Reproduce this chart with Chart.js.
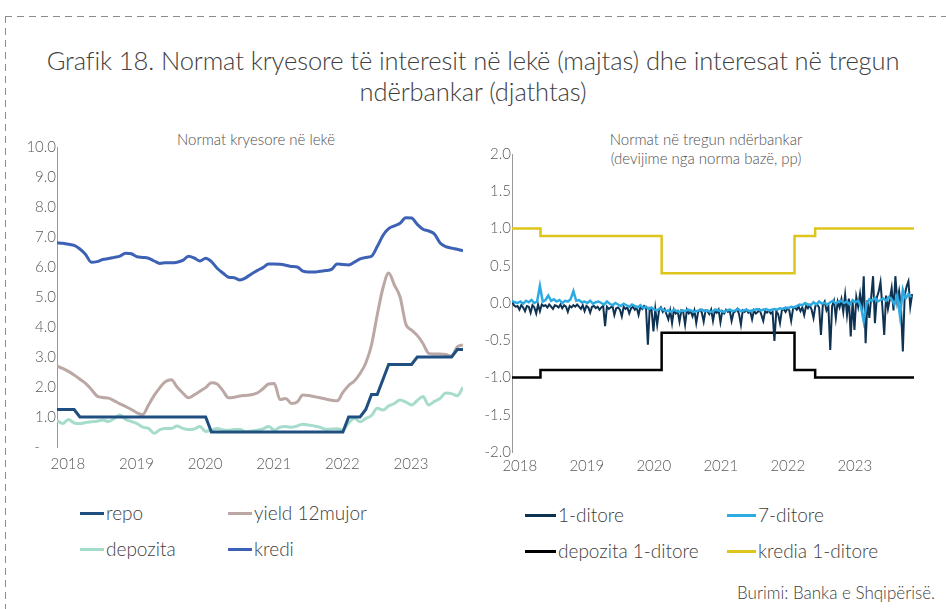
<!DOCTYPE html>
<html lang="sq">
<head>
    <meta charset="UTF-8">
    <title>Grafik 18</title>
    <script src="https://cdn.jsdelivr.net/npm/chart.js"></script>
    <style>
        body {
            margin: 0;
            width: 946px;
            height: 609px;
            background: #fff;
            position: relative;
            overflow: hidden;
            font-family: Lato, "Open Sans", sans-serif;
            font-weight: 300;
            color: #404040;
        }
        .dash-top {
            position: absolute; left: 5px; top: 16px; width: 941px; height: 1px;
            background: repeating-linear-gradient(to right, #8c8c8c 0 7px, transparent 7px 12px);
        }
        .dash-left {
            position: absolute; left: 5px; top: 16px; width: 1px; height: 593px;
            background: repeating-linear-gradient(to bottom, #8c8c8c 0 7px, transparent 7px 12px);
        }
        .title {
            position: absolute; left: 0; top: 45px; width: 946px;
            text-align: center; font-size: 25.5px; line-height: 31px; letter-spacing: -0.1px;
        }
        .sub {
            position: absolute; text-align: center; font-size: 15px; line-height: 19px; color: #505050;
        }
        canvas { position: absolute; }
        .legend {
            position: absolute; display: grid; row-gap: 14px; font-size: 19px; line-height: 22px;
        }
        .legend span { display: flex; align-items: center; white-space: nowrap; }
        .legend i { display: inline-block; height: 3px; margin-right: 2px; }
        .source {
            position: absolute; right: 11px; top: 582px; font-size: 17px;
        }
    </style>
</head>
<body>
    <div class="dash-top"></div>
    <div class="dash-left"></div>
    <div class="title">Grafik 18. Normat kryesore të interesit në lekë (majtas) dhe interesat në tregun<br>ndërbankar (djathtas)</div>
    <div class="sub" style="left:146px; top:130px; width:220px;">Normat kryesore në lekë</div>
    <div class="sub" style="left:586px; top:130px; width:240px;">Normat në tregun ndërbankar<br>(devijime nga norma bazë, pp)</div>

    <canvas id="leftChart" width="465" height="355" style="left:10px; top:125px;"></canvas>
    <canvas id="rightChart" width="465" height="355" style="left:475px; top:125px;"></canvas>

    <div class="legend" id="leftLegend" style="left:80px; top:502px; grid-template-columns:148px 160px;"></div>
    <div class="legend" id="rightLegend" style="left:525px; top:504px; grid-template-columns:202px 180px;"></div>

    <div class="source">Burimi: Banka e Shqipërisë.</div>

    <script>
        const YEARS = ['2018', '2019', '2020', '2021', '2022', '2023'];

        // majtas: vlera mujore, janar 2018 - dhjetor 2023
        const REPO = [
            1.25, 1.25, 1.25, 1.25, 1.00, 1.00, 1.00, 1.00, 1.00, 1.00, 1.00, 1.00,
            1.00, 1.00, 1.00, 1.00, 1.00, 1.00, 1.00, 1.00, 1.00, 1.00, 1.00, 1.00,
            1.00, 1.00, 1.00, 0.50, 0.50, 0.50, 0.50, 0.50, 0.50, 0.50, 0.50, 0.50,
            0.50, 0.50, 0.50, 0.50, 0.50, 0.50, 0.50, 0.50, 0.50, 0.50, 0.50, 0.50,
            0.50, 0.50, 0.50, 1.00, 1.00, 1.00, 1.25, 1.75, 1.75, 2.25, 2.75, 2.75,
            2.75, 2.75, 2.75, 3.00, 3.00, 3.00, 3.00, 3.00, 3.00, 3.00, 3.25, 3.25
        ];
        const YIELD_12M = [
            2.70, 2.62, 2.52, 2.40, 2.26, 2.12, 1.92, 1.70, 1.65, 1.63, 1.54, 1.44,
            1.35, 1.25, 1.14, 1.08, 1.40, 1.72, 1.98, 2.18, 2.24, 2.00, 1.80, 1.64,
            1.74, 1.86, 1.98, 2.14, 2.10, 1.88, 1.64, 1.66, 1.70, 1.72, 1.74, 1.80,
            1.94, 2.10, 2.12, 1.58, 1.62, 1.45, 1.50, 1.73, 1.72, 1.68, 1.64, 1.60,
            1.56, 1.54, 1.82, 2.05, 2.20, 2.45, 2.80, 3.40, 4.40, 5.30, 5.80, 5.40,
            5.00, 4.10, 3.90, 3.72, 3.45, 3.12, 3.10, 3.10, 3.08, 3.03, 3.34, 3.40
        ];
        const DEPOZITA = [
            0.88, 0.78, 0.92, 0.80, 0.78, 0.82, 0.84, 0.86, 0.90, 0.85, 0.95, 1.07,
            0.92, 0.85, 0.78, 0.66, 0.62, 0.46, 0.58, 0.62, 0.62, 0.70, 0.62, 0.58,
            0.60, 0.68, 0.52, 0.56, 0.62, 0.57, 0.56, 0.58, 0.58, 0.51, 0.53, 0.56,
            0.60, 0.68, 0.57, 0.66, 0.68, 0.66, 0.70, 0.76, 0.73, 0.70, 0.66, 0.59,
            0.60, 0.61, 0.57, 0.80, 0.96, 0.84, 0.95, 1.05, 1.29, 1.23, 1.37, 1.45,
            1.57, 1.50, 1.40, 1.55, 1.68, 1.40, 1.52, 1.62, 1.80, 1.78, 1.71, 1.99
        ];
        const KREDI = [
            6.81, 6.79, 6.76, 6.72, 6.60, 6.42, 6.16, 6.18, 6.25, 6.28, 6.32, 6.36,
            6.46, 6.44, 6.34, 6.32, 6.29, 6.20, 6.12, 6.14, 6.14, 6.16, 6.22, 6.36,
            6.30, 6.20, 6.29, 6.18, 5.96, 5.80, 5.66, 5.64, 5.57, 5.64, 5.77, 5.88,
            5.98, 6.10, 6.10, 6.09, 6.06, 6.02, 6.00, 5.86, 5.83, 5.83, 5.86, 5.88,
            5.92, 6.10, 6.08, 6.07, 6.16, 6.27, 6.32, 6.36, 6.68, 7.05, 7.28, 7.37,
            7.46, 7.64, 7.63, 7.42, 7.26, 7.20, 7.10, 6.80, 6.68, 6.63, 6.59, 6.54
        ];

        // djathtas: 1-ditore me 3 vlera ne muaj, 7-ditore me 2 vlera ne muaj
        const DITORE_1 = [
            0.02, -0.03, -0.05, -0.04, -0.09, -0.03, -0.06, -0.11, -0.04, -0.05, -0.13, -0.03,
            -0.06, -0.14, -0.02, -0.11, -0.02, -0.04, -0.03, -0.06, -0.02, -0.05, -0.08, -0.03,
            -0.04, -0.06, -0.02, -0.07, -0.03, -0.05, -0.12, -0.04, -0.06, -0.03, -0.05, -0.02,
            -0.05, -0.08, -0.03, -0.11, -0.04, -0.06, -0.13, -0.05, -0.04, -0.07, -0.05, -0.09,
            -0.06, -0.04, -0.31, -0.05, -0.08, -0.06, -0.04, -0.16, -0.07, -0.06, -0.09, -0.18,
            -0.05, -0.08, -0.06, -0.14, -0.07, -0.05, -0.09, -0.06, -0.16, -0.05, -0.08, -0.04,
            -0.06, -0.56, -0.07, -0.09, -0.38, -0.08, -0.29, -0.10, -0.06, -0.12, -0.08, -0.15,
            -0.22, -0.10, -0.27, -0.09, -0.14, -0.11, -0.25, -0.10, -0.12, -0.29, -0.09, -0.14,
            -0.11, -0.18, -0.10, -0.27, -0.12, -0.09, -0.13, -0.25, -0.10, -0.11, -0.15, -0.09,
            -0.24, -0.10, -0.13, -0.09, -0.26, -0.11, -0.14, -0.09, -0.12, -0.10, -0.24, -0.13,
            -0.11, -0.08, -0.15, -0.29, -0.10, -0.12, -0.09, -0.13, -0.11, -0.22, -0.10, -0.14,
            -0.12, -0.09, -0.16, -0.24, -0.11, -0.13, -0.10, -0.14, -0.12, -0.51, -0.11, -0.15,
            -0.27, -0.10, -0.08, -0.12, -0.07, -0.10, -0.24, -0.08, -0.06, -0.09, -0.05, -0.11,
            -0.06, -0.16, -0.04, -0.07, -0.03, -0.09, -0.20, -0.04, -0.02, -0.06, -0.43, -0.03,
            0.02, -0.10, -0.05, -0.63, -0.04, 0.03, -0.20, 0.02, -0.06, 0.05, -0.12, 0.11,
            -0.16, 0.06, -0.45, 0.02, -0.36, 0.08, -0.05, 0.12, -0.10, 0.36, -0.54, 0.04,
            -0.20, 0.08, 0.36, -0.27, 0.07, 0.15, 0.28, -0.05, -0.43, 0.10, -0.08, 0.05,
            0.20, -0.10, 0.36, 0.02, 0.16, -0.05, -0.65, 0.10, 0.22, 0.29, -0.05, 0.12
        ];
        const DITORE_7 = [
            0.03, 0.01, 0.00, 0.02, -0.01, 0.03, 0.01, 0.04, 0.00, 0.02, 0.23, 0.02,
            0.04, 0.10, 0.03, 0.05, 0.02, 0.04, 0.00, 0.03, 0.02, 0.05, 0.16, 0.03,
            0.04, 0.01, 0.02, 0.00, 0.03, -0.01, 0.01, 0.02, 0.00, -0.02, 0.02, -0.01,
            -0.03, 0.00, -0.02, -0.04, -0.01, -0.03, -0.05, -0.02, -0.04, -0.06, -0.03, -0.07,
            -0.05, -0.08, -0.06, -0.09, -0.10, -0.07, -0.09, -0.11, -0.10, -0.12, -0.09, -0.11,
            -0.12, -0.10, -0.11, -0.09, -0.10, -0.12, -0.11, -0.10, -0.09, -0.11, -0.10, -0.12,
            -0.11, -0.09, -0.10, -0.11, -0.12, -0.10, -0.09, -0.11, -0.10, -0.08, -0.11, -0.10,
            -0.09, -0.11, -0.10, -0.09, -0.08, -0.10, -0.09, -0.08, -0.10, -0.09, -0.08, -0.09,
            -0.07, -0.08, -0.06, -0.07, -0.05, -0.06, -0.04, -0.02, -0.03, 0.00, -0.02, -0.03,
            0.01, -0.02, 0.02, -0.01, 0.00, -0.02, 0.01, 0.03, -0.01, 0.02, 0.03, 0.00,
            0.02, -0.02, 0.04, 0.01, 0.03, -0.05, -0.25, -0.02, 0.05, 0.03, 0.07, 0.02,
            0.04, 0.06, 0.03, 0.08, 0.05, -0.02, 0.10, -0.18, 0.18, 0.06, 0.12, 0.08
        ];
        // korridori: muaji kur ndryshon norma
        const KORRIDOR_MUAJ = [0, 5.1, 26.8, 50.6, 54.3, 72];
        const DEPOZITA_1D = [-1.0, -0.9, -0.4, -0.9, -1.0, -1.0];
        const KREDIA_1D = [1.0, 0.9, 0.4, 0.9, 1.0, 1.0];

        const TICK_COLOR = '#595959';
        const TICK_FONT = { family: 'Lato', size: 15, weight: 300 };

        function toXY(values, perMonth) {
            return values.map((v, i) => ({ x: i / perMonth, y: v }));
        }

        function yearTicks(offset) {
            return function (scale) {
                scale.ticks = YEARS.map((y, i) => ({ value: offset + 12 * i }));
            };
        }

        function buildLegend(id, datasets) {
            const el = document.getElementById(id);
            el.innerHTML = datasets.map(d =>
                `<span><i style="width:${d.swatch}px; background:${d.borderColor}"></i>${d.label}</span>`
            ).join('');
        }

        const leftSets = [
            { label: 'repo', data: toXY(REPO, 1), borderColor: '#1F4E80', borderWidth: 3, tension: 0, swatch: 24 },
            { label: 'yield 12mujor', data: toXY(YIELD_12M, 1), borderColor: '#BBA8A4', borderWidth: 3, tension: 0.4, cubicInterpolationMode: 'monotone', swatch: 24 },
            { label: 'depozita', data: toXY(DEPOZITA, 1), borderColor: '#A6DCCB', borderWidth: 3, tension: 0.3, cubicInterpolationMode: 'monotone', swatch: 24 },
            { label: 'kredi', data: toXY(KREDI, 1), borderColor: '#3D62B5', borderWidth: 3, tension: 0.4, cubicInterpolationMode: 'monotone', swatch: 24 }
        ];

        new Chart(document.getElementById('leftChart'), {
            type: 'line',
            data: { datasets: leftSets.map(d => Object.assign({ pointRadius: 0, fill: false }, d)) },
            options: {
                responsive: false,
                animation: false,
                layout: { padding: { top: 22, right: 12, left: 0, bottom: 0 } },
                plugins: { legend: { display: false }, tooltip: { enabled: false } },
                scales: {
                    x: {
                        type: 'linear', min: 0, max: 71,
                        grid: { display: false, drawTicks: false },
                        border: { display: false },
                        afterBuildTicks: yearTicks(1.9),
                        afterFit: s => { s.height = 33; },
                        ticks: {
                            autoSkip: false, maxRotation: 0, padding: 8,
                            color: TICK_COLOR, font: TICK_FONT,
                            callback: (v, i) => YEARS[i]
                        }
                    },
                    y: {
                        min: 0, max: 10,
                        grid: { display: false, drawTicks: false },
                        border: { display: true, color: '#999', width: 1, dash: [5, 3] },
                        afterFit: s => { s.width = 47; },
                        ticks: {
                            stepSize: 1, padding: 1,
                            color: TICK_COLOR, font: TICK_FONT,
                            callback: v => v === 0 ? '-    ' : v.toFixed(1)
                        }
                    }
                }
            }
        });

        const rightSets = [
            { label: '1-ditore', data: toXY(DITORE_1, 3), borderColor: '#0E3252', borderWidth: 2, order: 1, swatch: 31 },
            { label: '7-ditore', data: toXY(DITORE_7, 2), borderColor: '#2DAAE1', borderWidth: 2.5, order: 0, swatch: 29 },
            { label: 'depozita 1-ditore', data: KORRIDOR_MUAJ.map((m, i) => ({ x: m, y: DEPOZITA_1D[i] })), borderColor: '#000000', borderWidth: 2.5, stepped: true, order: 2, swatch: 31 },
            { label: 'kredia 1-ditore', data: KORRIDOR_MUAJ.map((m, i) => ({ x: m, y: KREDIA_1D[i] })), borderColor: '#DEC51C', borderWidth: 2.5, stepped: true, order: 3, swatch: 29 }
        ];

        new Chart(document.getElementById('rightChart'), {
            type: 'line',
            data: { datasets: rightSets.map(d => Object.assign({ pointRadius: 0, fill: false, tension: 0 }, d)) },
            options: {
                responsive: false,
                animation: false,
                layout: { padding: { top: 29, right: 26, left: 0, bottom: 0 } },
                plugins: { legend: { display: false }, tooltip: { enabled: false } },
                scales: {
                    x: {
                        type: 'linear', min: 0, max: 72,
                        grid: { display: false, drawTicks: false },
                        border: { display: false },
                        afterBuildTicks: yearTicks(1.4),
                        afterFit: s => { s.height = 28; },
                        ticks: {
                            autoSkip: false, maxRotation: 0, padding: 5,
                            color: TICK_COLOR, font: TICK_FONT,
                            callback: (v, i) => YEARS[i]
                        }
                    },
                    y: {
                        min: -2, max: 2,
                        grid: { display: false, drawTicks: false },
                        border: { display: true, color: '#999', width: 1, dash: [5, 3] },
                        afterFit: s => { s.width = 37; },
                        ticks: {
                            stepSize: 0.5, padding: 1,
                            color: TICK_COLOR, font: TICK_FONT,
                            callback: v => v.toFixed(1)
                        }
                    }
                }
            }
        });

        buildLegend('leftLegend', leftSets);
        buildLegend('rightLegend', rightSets);
    </script>
</body>
</html>
